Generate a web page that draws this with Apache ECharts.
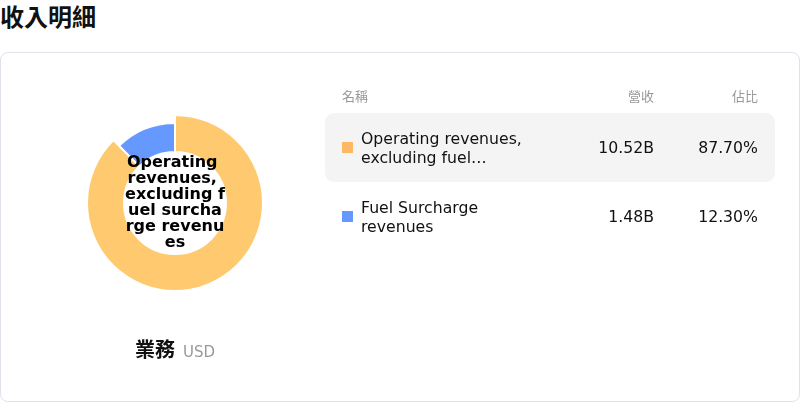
<!DOCTYPE html>
<html>
<head>
<meta charset="utf-8">
<script src="https://cdn.jsdelivr.net/npm/echarts@6/dist/echarts.min.js"></script>
<style>
  html, body { margin: 0; padding: 0; background: #fff; }
  body { width: 800px; height: 402px; position: relative; overflow: hidden;
         font-family: "DejaVu Sans", "Noto Sans CJK TC", sans-serif; color: #111; }
  #title { position: absolute; left: 0; top: 0; font-size: 24px; font-weight: bold; line-height: 32px;
           font-family: "Noto Sans CJK TC", "DejaVu Sans", sans-serif; }
  #card { position: absolute; left: 0; top: 52px; width: 798px; height: 348px;
          border: 1px solid #e2e1ea; border-radius: 8px; }
  #chart { position: absolute; left: 0; top: 52px; width: 350px; height: 350px; }
  #foot { position: absolute; left: 0; top: 334px; width: 350px; text-align: center; line-height: 30px; }
  #foot .b { font-size: 20px; font-weight: bold; font-family: "Noto Sans CJK TC", sans-serif; color: #111; }
  #foot .u { font-size: 15px; color: #999; margin-left: 8px; }
  #table { position: absolute; left: 325px; top: 78px; width: 450px; }
  .hdr { display: flex; height: 35px; align-items: center; font-size: 13px; color: #999;
         font-family: "Noto Sans CJK TC", "DejaVu Sans", sans-serif; padding: 0 17px; }
  .row { display: flex; height: 69px; align-items: center; border-radius: 9px; padding: 0 17px; }
  .row.hl { background: #f4f4f4; }
  .c1 { flex: 1; display: flex; align-items: center; min-width: 0; }
  .c2 { flex: none; width: 120px; text-align: right; font-size: 15.7px; }
  .c3 { flex: none; width: 104px; text-align: right; font-size: 15.7px; }
  .hdr .c2, .hdr .c3 { font-size: 13px; }
  .ic { width: 11px; height: 11px; flex: none; margin-right: 8px; }
  .nm { font-size: 15.7px; line-height: 19.5px; width: 180px; display: -webkit-box; -webkit-line-clamp: 2;
        -webkit-box-orient: vertical; overflow: hidden; text-overflow: ellipsis; padding-top: 1px; }
</style>
</head>
<body>
<div id="title">收入明細</div>
<div id="card"></div>
<div id="chart"></div>
<div id="foot"><span class="b">業務</span><span class="u">USD</span></div>
<div id="table"></div>
<script>
const names = ['Operating revenues, excluding fuel surcharge revenues', 'Fuel Surcharge revenues'];
const revenues = [10.52, 1.48];        // billions USD
const revenueLabels = ['10.52B', '1.48B'];
const shares = ['87.70%', '12.30%'];
const colors = ['#FCB865', '#6699FF'];
const headers = ['名稱', '營收', '佔比'];

// table
const tbl = document.getElementById('table');
let html = '<div class="hdr"><div class="c1">' + headers[0] + '</div><div class="c2">' + headers[1] +
           '</div><div class="c3">' + headers[2] + '</div></div>';
names.forEach((n, i) => {
  html += '<div class="row' + (i === 0 ? ' hl' : '') + '"><div class="c1"><div class="ic" style="background:' +
          colors[i] + '"></div><div class="nm">' + n + '</div></div><div class="c2">' + revenueLabels[i] +
          '</div><div class="c3">' + shares[i] + '</div></div>';
});
tbl.innerHTML = html;

// donut
const chart = echarts.init(document.getElementById('chart'));
chart.setOption({
  animation: false,
  color: colors,
  series: [{
    type: 'pie',
    center: [175, 151],
    radius: [51, 80],
    avoidLabelOverlap: false,
    itemStyle: { borderColor: '#fff', borderWidth: 2 },
    label: { show: false, position: 'center' },
    labelLine: { show: false },
    emphasis: {
      scale: true,
      scaleSize: 8,
      label: {
        show: true,
        fontSize: 16,
        fontWeight: 'bold',
        color: '#000',
        lineHeight: 16,
        width: 101,
        overflow: 'breakAll',
        fontFamily: 'DejaVu Sans'
      }
    },
    data: names.map((n, i) => ({ name: n, value: revenues[i] }))
  }]
});
chart.dispatchAction({ type: 'highlight', seriesIndex: 0, dataIndex: 0 });
</script>
</body>
</html>
